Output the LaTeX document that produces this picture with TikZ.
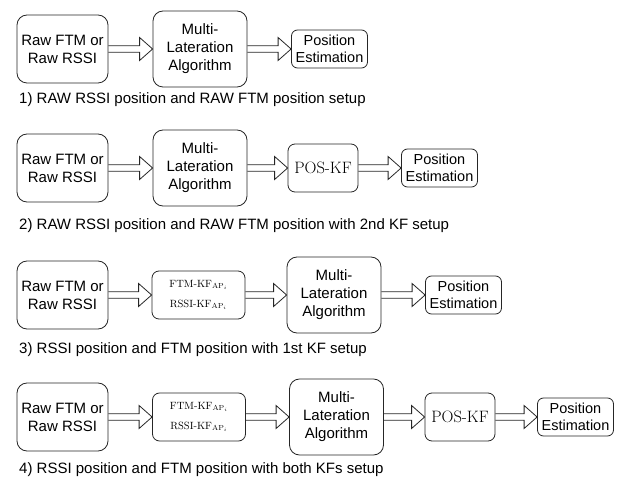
\documentclass[tikz,border=0pt]{standalone}
\usepackage{fontspec}
\setsansfont{Liberation Sans}
\usetikzlibrary{calc}
\tikzset{
  box/.style={draw=black!85, line width=0.8pt, rounded corners=10pt, align=center, inner sep=0pt,
    font=\sffamily\fontsize{15}{18}\selectfont},
  inbox/.style={box, minimum width=91pt, minimum height=68pt},
  mlbox/.style={box, minimum width=94pt, minimum height=76pt},
  estbox/.style={box, rounded corners=6pt, minimum width=76pt, minimum height=38pt,
    font=\sffamily\fontsize{14.5}{17.5}\selectfont},
  poskf/.style={box, rounded corners=7pt, minimum width=70pt, minimum height=48pt,
    font=\rmfamily\fontsize{16.5}{19}\selectfont},
  kfbox/.style={box, rounded corners=7pt, minimum width=93pt, minimum height=48pt,
    font=\rmfamily\fontsize{10.5}{12}\selectfont},
  caption/.style={anchor=west, inner sep=0pt, font=\sffamily\fontsize{15}{18}\selectfont},
  fat/.style={draw=black!85, line width=0.8pt, line join=miter}
}
% hollow block arrow from the east side of #1 to the west side of #2
\newcommand{\fatarrow}[2]{%
  \draw[fat] ($(#1.east)+(0,-3.2)$) -- ($(#2.west)+(-13,-3.2)$) -- ($(#2.west)+(-13,-11.5)$)
    -- (#2.west) -- ($(#2.west)+(-13,11.5)$) -- ($(#2.west)+(-13,3.2)$) -- ($(#1.east)+(0,3.2)$);}
\newcommand{\rawtext}{Raw FTM or\\Raw RSSI}
\newcommand{\mltext}{Multi-\\Lateration\\Algorithm}
\newcommand{\esttext}{Position\\Estimation}
\newcommand{\kftext}{FTM-KF$_{\mathrm{AP}_i}$\\[8pt]RSSI-KF$_{\mathrm{AP}_i}$}
\begin{document}
\begin{tikzpicture}[x=1pt, y=-1pt]
\useasboundingbox (0,0) rectangle (619,481);
% 1) raw setup
\node[inbox] (raw1) at (62.5,49) {\rawtext};
\node[mlbox] (ml1) at (200,49) {\mltext};
\node[estbox] (est1) at (329.5,49) {\esttext};
\fatarrow{raw1}{ml1}
\fatarrow{ml1}{est1}
\node[caption] (cap1) at (19,100) {1) RAW RSSI position and RAW FTM position setup};

% 2) with 2nd KF
\node[inbox] (raw2) at (62.5,168) {\rawtext};
\node[mlbox] (ml2) at (200,168) {\mltext};
\node[poskf] (pos2) at (323,168) {POS-KF};
\node[estbox] (est2) at (439.5,168) {\esttext};
\fatarrow{raw2}{ml2}
\fatarrow{ml2}{pos2}
\fatarrow{pos2}{est2}
\node[caption] (cap2) at (19,226) {2) RAW RSSI position and RAW FTM position with 2nd KF setup};

% 3) with 1st KF
\node[inbox] (raw3) at (62.5,295) {\rawtext};
\node[kfbox] (kf3) at (198.5,295) {\kftext};
\node[mlbox] (ml3) at (334,295) {\mltext};
\node[estbox] (est3) at (463.5,295) {\esttext};
\fatarrow{raw3}{kf3}
\fatarrow{kf3}{ml3}
\fatarrow{ml3}{est3}
\node[caption] (cap3) at (19,350) {3) RSSI position and FTM position with 1st KF setup};

% 4) both KFs
\node[inbox] (raw4) at (62.5,417) {\rawtext};
\node[kfbox] (kf4) at (199,417) {\kftext};
\node[mlbox] (ml4) at (336.5,417) {\mltext};
\node[poskf] (pos4) at (460,417) {POS-KF};
\node[estbox] (est4) at (575.5,417) {\esttext};
\fatarrow{raw4}{kf4}
\fatarrow{kf4}{ml4}
\fatarrow{ml4}{pos4}
\fatarrow{pos4}{est4}
\node[caption] (cap4) at (19,470) {4) RSSI position and FTM position with both KFs setup};
\end{tikzpicture}
\end{document}
